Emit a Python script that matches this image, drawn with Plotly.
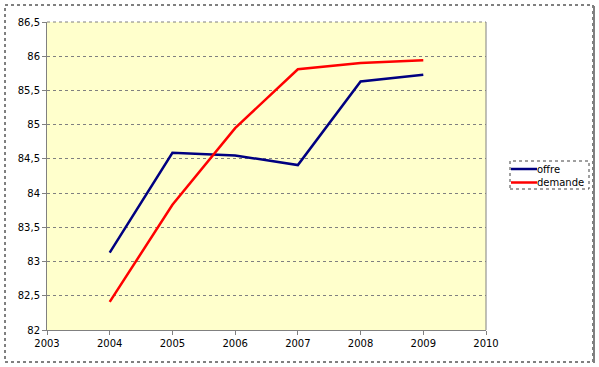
import plotly.graph_objects as go

years = [2004, 2005, 2006, 2007, 2008, 2009]
offre = [83.13, 84.59, 84.55, 84.41, 85.63, 85.73]
demande = [82.41, 83.83, 84.95, 85.81, 85.90, 85.94]
series_names = ["offre", "demande"]
series_colors = ["#000080", "#FF0000"]

L, R, T, B = 47, 113, 22, 37
W, H = 599, 367
pw, ph = W - L - R, H - T - B

def px(x):
    return (x - L) / pw

def py(y):
    return (H - B - y) / ph

fig = go.Figure()
for name, vals, col in zip(series_names, [offre, demande], series_colors):
    fig.add_trace(go.Scatter(x=years, y=vals, mode="lines", name=name,
                             line=dict(color=col, width=2.5), showlegend=False))

font = dict(family="DejaVu Sans, Verdana, sans-serif", size=10, color="#000000")

fig.update_layout(
    width=W, height=H,
    margin=dict(l=L, r=R, t=T, b=B, pad=0, autoexpand=False),
    paper_bgcolor="#FFFFFF",
    plot_bgcolor="#FFFFCC",
    separators=", ",
    font=font,
    showlegend=False,
    xaxis=dict(range=[2003, 2010], dtick=1, tick0=2003, showgrid=False,
               showline=True, linecolor="#808080", linewidth=1,
               ticks="outside", ticklen=4, tickcolor="#808080",
               zeroline=False, mirror=False, tickformat="d"),
    yaxis=dict(range=[82, 86.5], dtick=0.5, tick0=82, showgrid=True,
               gridcolor="#808080", griddash="dot", gridwidth=1,
               showline=True, linecolor="#808080", linewidth=1,
               ticks="outside", ticklen=4, tickcolor="#808080",
               zeroline=False),
)

# plot area right border and top
fig.add_shape(type="line", xref="paper", yref="paper", x0=1, x1=1, y0=0, y1=1,
              line=dict(color="#808080", width=1))
fig.add_shape(type="line", xref="paper", yref="paper", x0=0, x1=1, y0=1, y1=1,
              line=dict(color="#808080", width=1, dash="dot"))
# outer border
fig.add_shape(type="rect", xref="paper", yref="paper",
              x0=px(5), x1=px(593), y0=py(362), y1=py(5),
              line=dict(color="#000000", width=1, dash="dot"))
fig.add_shape(type="line", xref="paper", yref="paper",
              x0=px(594), x1=px(594), y0=py(363), y1=py(6),
              line=dict(color="#808080", width=2))
# legend box
fig.add_shape(type="rect", xref="paper", yref="paper",
              x0=px(510), x1=px(589), y0=py(189), y1=py(161),
              line=dict(color="#404040", width=1, dash="dot"))
for i, (name, col) in enumerate(zip(series_names, series_colors)):
    yy = 169 + 13.5 * i
    fig.add_shape(type="line", xref="paper", yref="paper",
                  x0=px(511), x1=px(537), y0=py(yy), y1=py(yy),
                  line=dict(color=col, width=2.5))
    fig.add_annotation(xref="paper", yref="paper", x=px(535), y=py(yy),
                       text=name, showarrow=False, xanchor="left", yanchor="middle",
                       font=dict(family="DejaVu Sans, Verdana, sans-serif", size=10))

fig.write_html("out.html", post_script="document.body.style.margin='0';",
               config={"displayModeBar": False})
